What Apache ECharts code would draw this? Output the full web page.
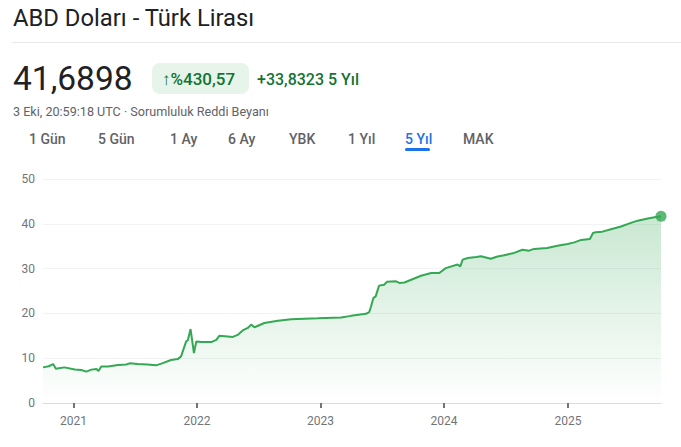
<!DOCTYPE html>
<html>
<head>
<meta charset="utf-8">
<script src="https://cdn.jsdelivr.net/npm/echarts@6/dist/echarts.min.js"></script>
<style>
  html, body { margin: 0; padding: 0; background: #fff; }
  #chart { width: 681px; height: 447px; }
</style>
</head>
<body>
<div id="chart"></div>
<script>
// USD/TRY, 5 yıl
const dates = [
  '2020-10-03', '2020-10-20', '2020-11-02', '2020-11-10', '2020-12-05',
  '2021-01-05', '2021-01-24', '2021-02-08', '2021-02-23', '2021-03-10',
  '2021-03-16', '2021-03-24', '2021-04-13', '2021-05-13', '2021-06-06',
  '2021-06-16', '2021-07-10', '2021-08-08', '2021-09-02', '2021-09-22',
  '2021-10-16', '2021-11-05', '2021-11-15', '2021-11-30', '2021-12-05',
  '2021-12-13', '2021-12-23', '2021-12-30', '2022-01-14', '2022-02-12',
  '2022-02-27', '2022-03-08', '2022-04-17', '2022-05-01', '2022-05-16',
  '2022-05-31', '2022-06-10', '2022-06-20', '2022-07-19', '2022-08-28',
  '2022-10-06', '2022-12-24', '2023-03-03', '2023-04-01', '2023-05-15',
  '2023-05-25', '2023-05-30', '2023-06-06', '2023-06-13', '2023-06-23',
  '2023-07-08', '2023-07-16', '2023-08-12', '2023-08-22', '2023-09-06',
  '2023-10-25', '2023-11-24', '2023-12-18', '2024-01-06', '2024-02-10',
  '2024-02-18', '2024-02-25', '2024-03-11', '2024-04-05', '2024-04-19',
  '2024-05-18', '2024-06-07', '2024-06-27', '2024-07-26', '2024-08-20',
  '2024-09-08', '2024-09-23', '2024-11-01', '2024-12-01', '2024-12-31',
  '2025-01-20', '2025-02-09', '2025-03-07', '2025-03-16', '2025-03-24',
  '2025-04-13', '2025-05-08', '2025-06-07', '2025-07-06', '2025-07-26',
  '2025-08-25', '2025-09-18', '2025-10-03'
];
const rates = [
  7.95, 8.2, 8.7, 7.65, 7.95,
  7.5, 7.35, 7.0, 7.45, 7.6,
  7.15, 8.15, 8.15, 8.5, 8.6,
  8.85, 8.7, 8.6, 8.4, 8.9,
  9.6, 9.8, 10.4, 13.75, 14.0,
  16.5, 11.15, 13.75, 13.6, 13.6,
  14.1, 15.0, 14.75, 15.2, 16.2,
  16.75, 17.5, 16.9, 17.85, 18.35,
  18.7, 18.9, 19.1, 19.45, 19.9,
  20.3, 21.5, 23.4, 23.8, 26.2,
  26.4, 27.05, 27.15, 26.8, 26.9,
  28.4, 29.0, 29.0, 30.1, 30.9,
  30.5, 32.0, 32.35, 32.6, 32.75,
  32.2, 32.7, 33.0, 33.5, 34.2,
  34.0, 34.4, 34.6, 35.1, 35.5,
  35.85, 36.4, 36.6, 37.95, 38.1,
  38.25, 38.8, 39.4, 40.2, 40.7,
  41.2, 41.5, 41.6898
];
const yTicks = [0, 10, 20, 30, 40, 50];
const tabs = ['1 Gün', '5 Gün', '1 Ay', '6 Ay', 'YBK', '1 Yıl', '5 Yıl', 'MAK'];
const tabX = [29, 98, 170, 228, 289, 348, 405, 463];
const activeTab = '5 Yıl';

const green = '#34a853';
const font = 'Roboto, Arial, sans-serif';

const seriesData = dates.map((d, i) => [d, rates[i]]);
const last = seriesData[seriesData.length - 1];

const chart = echarts.init(document.getElementById('chart'), null, { renderer: 'svg' });

// üst kısım: başlık, fiyat, rozet ve sekmeler
const header = [
  { type: 'text', left: 13, top: 6, style: { text: 'ABD Doları - Türk Lirası', font: '400 23.8px ' + font, fill: '#202124' } },
  { type: 'line', shape: { x1: 12, y1: 42.5, x2: 681, y2: 42.5 }, style: { stroke: '#e8eaed', lineWidth: 1 } },
  { type: 'text', left: 13, top: 61, style: { text: '41,6898', font: '400 33.5px ' + font, fill: '#202124' } },
  { type: 'rect', shape: { x: 152, y: 63, width: 97, height: 31, r: 8 }, style: { fill: '#e6f4ea' } },
  { type: 'text', left: 162, top: 70, style: { text: '↑%430,57', font: '500 17px ' + font, fill: '#137333' } },
  { type: 'text', left: 257, top: 71, style: { text: '+33,8323 5 Yıl', font: '500 16px ' + font, fill: '#137333' } },
  { type: 'text', left: 13, top: 104.5, style: { text: '3 Eki, 20:59:18 UTC · Sorumluluk Reddi Beyanı', font: '400 12.6px ' + font, fill: '#5f6368' } }
];
tabs.forEach((t, i) => {
  header.push({
    type: 'text', left: tabX[i], top: 132,
    style: { text: t, font: '500 14px ' + font, fill: t === activeTab ? '#1a73e8' : '#5f6368' }
  });
});
header.push({ type: 'rect', shape: { x: 405, y: 148, width: 25, height: 3, r: 1.5 }, style: { fill: '#1a73e8' } });

const option = {
  backgroundColor: '#fff',
  animation: false,
  textStyle: { fontFamily: font },
  graphic: header,
  grid: { left: 43, right: 20, top: 179, bottom: 44 },
  xAxis: {
    type: 'time',
    min: dates[0],
    max: dates[dates.length - 1],
    minInterval: 365 * 24 * 3600 * 1000,
    maxInterval: 366 * 24 * 3600 * 1000,
    axisLine: { lineStyle: { color: '#dadce0', width: 1 } },
    axisTick: { show: true, length: 5, lineStyle: { color: '#70757a', width: 2 } },
    axisLabel: { formatter: '{yyyy}', color: '#70757a', fontSize: 12, margin: 12, hideOverlap: true },
    splitLine: { show: false }
  },
  yAxis: {
    type: 'value',
    min: yTicks[0],
    max: yTicks[yTicks.length - 1],
    interval: 10,
    axisLine: { show: false },
    axisTick: { show: false },
    axisLabel: { color: '#70757a', fontSize: 12, margin: 8 },
    splitLine: { lineStyle: { color: '#f1f3f4', width: 1 } }
  },
  series: [
    {
      type: 'line',
      data: seriesData,
      showSymbol: false,
      lineStyle: { color: green, width: 2 },
      areaStyle: {
        color: new echarts.graphic.LinearGradient(0, 0, 0, 1, [
          { offset: 0, color: 'rgba(52,168,83,0.38)' },
          { offset: 1, color: 'rgba(52,168,83,0)' }
        ])
      },
      silent: true
    },
    {
      type: 'scatter',
      data: [last],
      symbolSize: 11,
      itemStyle: { color: green },
      silent: true
    }
  ]
};

chart.setOption(option);
</script>
</body>
</html>
